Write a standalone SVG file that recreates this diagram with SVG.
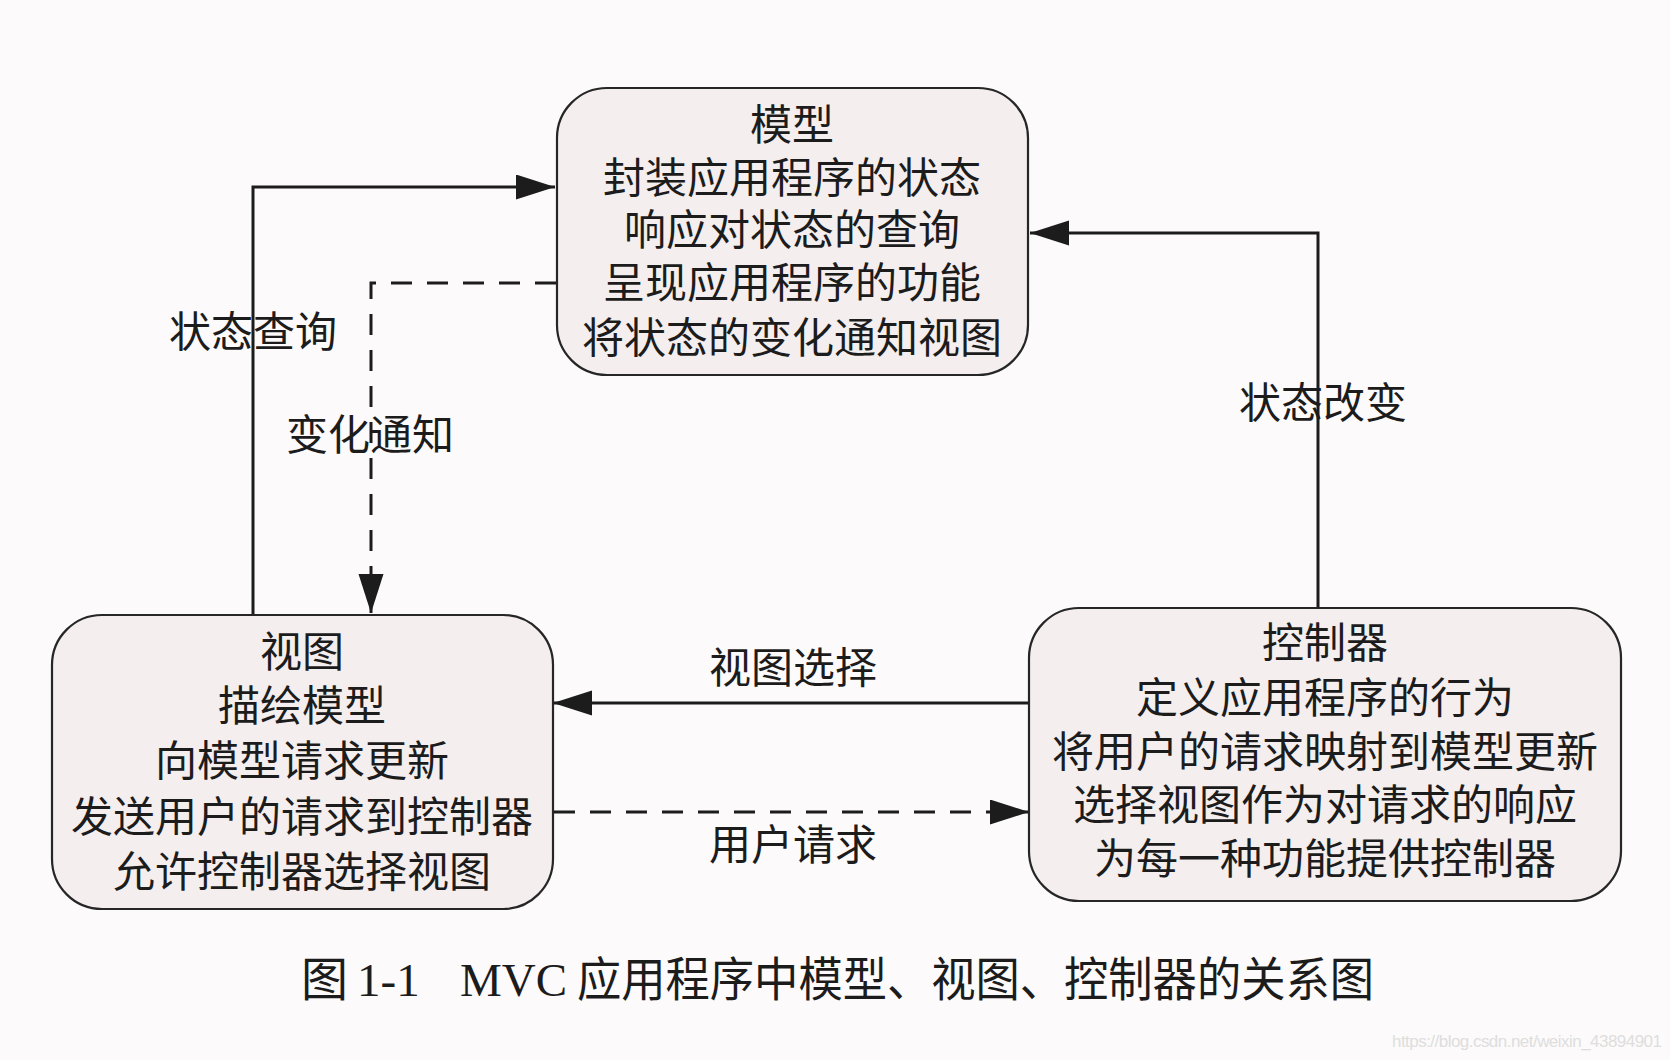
<svg xmlns="http://www.w3.org/2000/svg" width="1670" height="1060" viewBox="0 0 1670 1060">
<style>
.box{fill:#f4eeee;stroke:#262626;stroke-width:2.2}
.t{font-family:"Noto Sans CJK SC","Noto Sans",sans-serif;font-size:42px;fill:#1c1c1c;text-anchor:middle;dominant-baseline:central}
.ln{fill:none;stroke:#1c1c1c;stroke-width:3}
.dash{stroke-dasharray:21 15}
.cap{font-family:"Liberation Serif","Noto Sans CJK SC",serif;font-size:47px;fill:#1c1c1c;dominant-baseline:central}
.wm{font-family:"Liberation Sans",Arial,sans-serif;font-size:17px;fill:#dedede;dominant-baseline:central}
</style>
<defs>
<marker id="ah" markerUnits="userSpaceOnUse" markerWidth="40" markerHeight="26" refX="39" refY="12.5" orient="auto">
<path d="M0,0 L39,12.5 L0,25 Z" fill="#1c1c1c"/>
</marker>
</defs>
<rect width="1670" height="1060" fill="#fcfafa"/>
<g id="connectors">
<path class="ln" d="M253,614 L253,187 L555,187" marker-end="url(#ah)"/>
<path class="ln dash" d="M556,283 L371,283 L371,613" marker-end="url(#ah)"/>
<path class="ln" d="M1318,608 L1318,233 L1030,233" marker-end="url(#ah)"/>
<path class="ln" d="M1029,703 L553,703" marker-end="url(#ah)"/>
<path class="ln dash" d="M554,812 L1029,812" marker-end="url(#ah)"/>
<text class="t" x="253" y="328">状态查询</text>
<text class="t" x="370" y="431">变化通知</text>
<text class="t" x="1323" y="399">状态改变</text>
<text class="t" x="793" y="664">视图选择</text>
<text class="t" x="793" y="841">用户请求</text>
</g>
<g id="model">
<rect class="box" x="557" y="88" width="471" height="287" rx="50"/>
<text class="t"><tspan x="792" y="121">模型</tspan><tspan x="792" y="174">封装应用程序的状态</tspan><tspan x="792" y="226">响应对状态的查询</tspan><tspan x="792" y="279">呈现应用程序的功能</tspan><tspan x="792" y="334">将状态的变化通知视图</tspan></text>
</g>
<g id="view">
<rect class="box" x="52" y="615" width="501" height="294" rx="50"/>
<text class="t"><tspan x="302" y="648">视图</tspan><tspan x="302" y="702">描绘模型</tspan><tspan x="302" y="757">向模型请求更新</tspan><tspan x="302" y="813">发送用户的请求到控制器</tspan><tspan x="302" y="868">允许控制器选择视图</tspan></text>
</g>
<g id="controller">
<rect class="box" x="1029" y="608" width="592" height="293" rx="50"/>
<text class="t"><tspan x="1325" y="639">控制器</tspan><tspan x="1325" y="694">定义应用程序的行为</tspan><tspan x="1325" y="748">将用户的请求映射到模型更新</tspan><tspan x="1325" y="801">选择视图作为对请求的响应</tspan><tspan x="1325" y="855">为每一种功能提供控制器</tspan></text>
</g>
<g id="caption">
<text class="cap" x="301" y="980">图</text>
<text class="cap" x="357" y="980">1-1</text>
<text class="cap" x="460" y="980">MVC</text>
<text class="cap" x="577" y="980" textLength="797" lengthAdjust="spacingAndGlyphs">应用程序中模型、视图、控制器的关系图</text>
</g>
<text class="wm" x="1392" y="1041" textLength="270">https://blog.csdn.net/weixin_43894901</text>
</svg>
